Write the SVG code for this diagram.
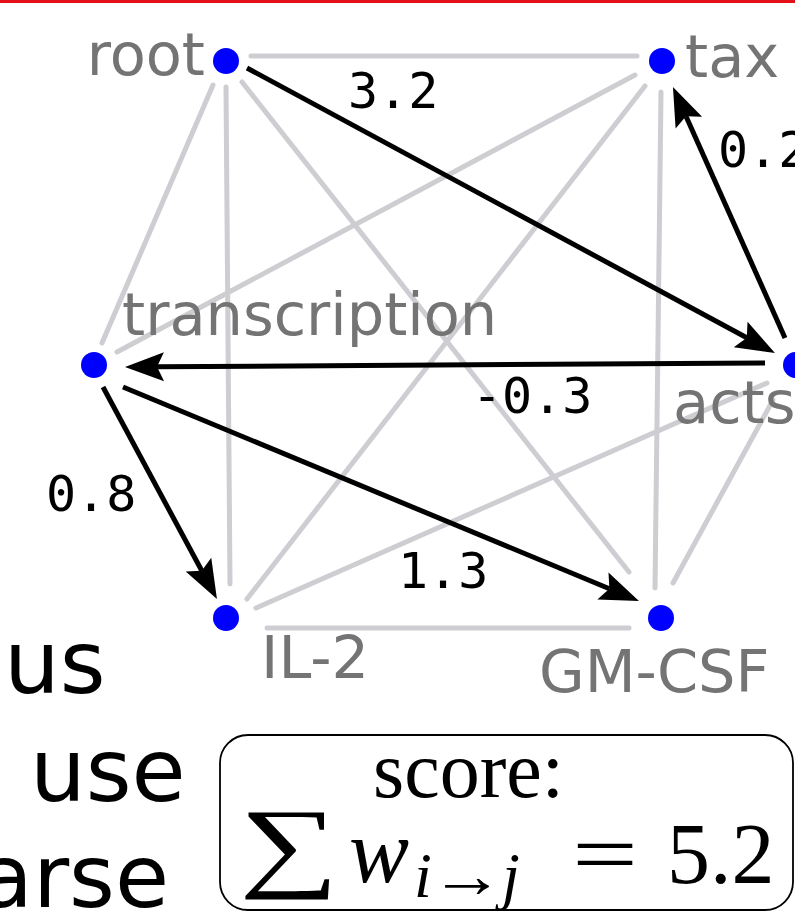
<svg xmlns="http://www.w3.org/2000/svg" width="795" height="913" viewBox="0 0 795 913">
  <style>
    .edge { stroke: #cdcdd2; stroke-width: 5; stroke-linecap: round; fill: none; }
    .arc { stroke: #000; stroke-width: 5; stroke-linecap: butt; fill: none; marker-end: url(#head); }
    .dot { fill: #0000ff; }
    .name { font-family: "DejaVu Sans", "Liberation Sans", sans-serif; font-size: 59px; fill: #747474; }
    .weight { font-family: "DejaVu Sans Mono", "Liberation Mono", monospace; font-size: 50px; fill: #000; }
    .side { font-family: "DejaVu Sans", "Liberation Sans", sans-serif; font-size: 88px; fill: #000; }
    .serif { font-family: "Liberation Serif", "DejaVu Serif", serif; fill: #000; }
  </style>
  <defs>
    <marker id="head" markerUnits="userSpaceOnUse" markerWidth="40" markerHeight="30" refX="7" refY="15" orient="auto" overflow="visible">
      <path d="M39,15 L0,0.5 L7,15 L0,29.5 Z" fill="#000"/>
    </marker>
  </defs>

  <rect x="0" y="0" width="795" height="3" fill="#e3101a"/>

  <!-- connectors: undirected background edges, then weighted arcs -->
  <g id="connectors">
    <line class="edge" x1="251" y1="56" x2="637" y2="56"/>
    <line class="edge" x1="267" y1="628" x2="629" y2="628"/>
    <line class="edge" x1="226" y1="87" x2="230" y2="584"/>
    <line class="edge" x1="213" y1="85" x2="102" y2="343"/>
    <line class="edge" x1="242" y1="82" x2="629" y2="572"/>
    <line class="edge" x1="635" y1="75" x2="117" y2="352"/>
    <line class="edge" x1="645" y1="86" x2="247" y2="599"/>
    <line class="edge" x1="661" y1="92" x2="655" y2="588"/>
    <line class="edge" x1="256" y1="608" x2="767" y2="383"/>
    <line class="edge" x1="673" y1="583" x2="773" y2="400"/>

    <line class="arc" x1="247" y1="68" x2="746.8" y2="337.8"/>
    <line class="arc" x1="785" y1="338" x2="686" y2="116.2"/>
    <line class="arc" x1="765" y1="363" x2="157" y2="366.8"/>
    <line class="arc" x1="103" y1="387" x2="201.8" y2="570.8"/>
    <line class="arc" x1="123" y1="387" x2="609.4" y2="588.7"/>

    <g id="weights">
      <text class="weight" x="348" y="108">3.2</text>
      <text class="weight" x="718" y="167">0.2</text>
      <text class="weight" x="472" y="413">-0.3</text>
      <text class="weight" x="46" y="511">0.8</text>
      <text class="weight" x="398" y="588">1.3</text>
    </g>
  </g>

  <g id="node-root">
    <circle class="dot" cx="226" cy="61" r="13"/>
    <text class="name" x="205" y="75" text-anchor="end">root</text>
  </g>
  <g id="node-tax">
    <circle class="dot" cx="662" cy="61" r="13"/>
    <text class="name" x="685" y="77">tax</text>
  </g>
  <g id="node-transcription">
    <circle class="dot" cx="94" cy="365" r="13"/>
    <text class="name" x="122" y="335">transcription</text>
  </g>
  <g id="node-acts">
    <circle class="dot" cx="796" cy="365" r="13"/>
    <text class="name" x="673" y="423">acts</text>
  </g>
  <g id="node-il2">
    <circle class="dot" cx="226" cy="618" r="13"/>
    <text class="name" x="261" y="678">IL-2</text>
  </g>
  <g id="node-gmcsf">
    <circle class="dot" cx="661" cy="618" r="13"/>
    <text class="name" x="539" y="692">GM-CSF</text>
  </g>

  <g id="side-words">
    <text class="side" x="4" y="693">us</text>
    <text class="side" x="30" y="801">use</text>
    <text class="side" x="-21" y="907">arse</text>
  </g>

  <g id="score-box">
    <rect x="220" y="735" width="573" height="175" rx="28" ry="28" fill="none" stroke="#000" stroke-width="1.8"/>
    <text class="serif" x="373" y="797" font-size="80">score:</text>
    <text class="serif" font-size="100" transform="translate(239,878) scale(1.4,1)">∑</text>
    <text class="serif" x="349" y="882" font-size="90" font-style="italic">w</text>
    <text class="serif" x="414" y="897" font-size="64" font-style="italic">i</text>
    <text class="serif" x="430" y="897" font-size="64" textLength="74" lengthAdjust="spacingAndGlyphs">→</text>
    <text class="serif" x="502" y="897" font-size="64" font-style="italic">j</text>
    <text class="serif" x="572" y="883" font-size="84" textLength="66" lengthAdjust="spacingAndGlyphs">=</text>
    <text class="serif" x="667" y="883" font-size="86">5.2</text>
  </g>
</svg>
